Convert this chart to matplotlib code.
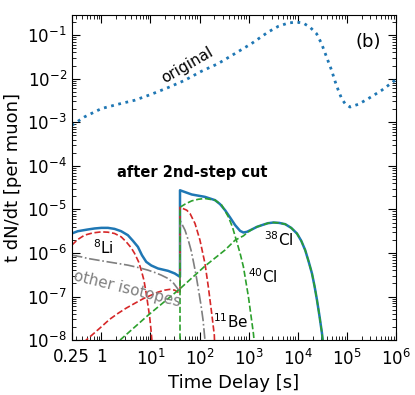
import matplotlib
matplotlib.use('Agg')
import matplotlib.pyplot as plt
import numpy as np
from matplotlib.ticker import LogLocator, NullFormatter, FixedLocator, FixedFormatter

plt.rcParams.update({'font.size': 12})

# "original" curve (dotted)
t_orig = [0.25, 0.454, 1, 2.17, 4.76, 10.4, 22.8, 49.9, 109, 239, 522, 1140, 2500,
          4000, 6400, 9460, 1.29e4, 1.77e4, 2.42e4, 3.06e4, 3.87e4, 4.9e4, 5.74e4,
          6.71e4, 7.84e4, 9.18e4, 1.16e5, 1.72e5, 2.75e5, 5.13e5, 1e6]
v_orig = [8.5e-4, 1.33e-3, 2.06e-3, 2.59e-3, 3.2e-3, 4.39e-3, 6.25e-3, 9.18e-3,
          1.48e-2, 2.22e-2, 3.76e-2, 6.38e-2, 0.118, 0.159, 0.19, 0.2, 0.19, 0.153,
          0.108, 6.38e-2, 3.15e-2, 1.56e-2, 8.85e-3, 5.42e-3, 3.5e-3, 2.69e-3,
          2.24e-3, 2.59e-3, 3.5e-3, 5.42e-3, 9.5e-3]

# total after 2nd-step cut
t_tot = [0.25, 0.331, 0.53, 0.726, 1.0, 1.36, 1.86, 2.53, 3.47, 4.40, 5.56, 6.71,
         8.21, 10.4, 14.2, 22.8, 31.2, 40,
         40, 69.3, 129, 207, 262, 331, 419, 531, 671, 783, 918, 1160, 1470, 1860,
         2470, 3210, 4190, 5560, 7360, 9640, 1.18e4, 1.42e4, 1.66e4, 1.95e4, 2.2e4,
         2.47e4, 2.79e4, 3.12e4, 3.31e4]
v_tot = [2.8e-6, 3.16e-6, 3.46e-6, 3.65e-6, 3.77e-6, 3.77e-6, 3.57e-6, 3.16e-6,
         2.56e-6, 1.9e-6, 1.38e-6, 8.9e-7, 6.25e-7, 5.16e-7, 4.41e-7, 3.89e-7,
         3.39e-7, 2.83e-7,
         2.75e-5, 2.2e-5, 1.94e-5, 1.63e-5, 1.32e-5, 9.6e-6, 6.52e-6, 4.35e-6,
         3.21e-6, 2.95e-6, 3.05e-6, 3.46e-6, 3.97e-6, 4.35e-6, 4.82e-6, 5.0e-6,
         4.9e-6, 4.58e-6, 3.77e-6, 2.8e-6, 1.9e-6, 1.16e-6, 6.49e-7, 3.39e-7,
         1.73e-7, 8.26e-8, 3.42e-8, 1.43e-8, 7.7e-9]

# 8Li
t_li8 = [0.25, 0.331, 0.454, 0.671, 1.0, 1.36, 1.86, 2.54, 3.21, 4.06, 4.76, 5.74,
         6.49, 7.36, 8.21, 8.89, 9.64, 10.2, 10.7, 11.0]
v_li8 = [1.51e-6, 2.04e-6, 2.56e-6, 2.89e-6, 3.05e-6, 3.0e-6, 2.8e-6, 2.34e-6,
         1.8e-6, 1.31e-6, 9.75e-7, 6.25e-7, 4.04e-7, 2.38e-7, 1.18e-7, 6.35e-8,
         3.42e-8, 1.85e-8, 1e-8, 7.7e-9]

# 11Be (before and after cut)
t_be11 = [0.45, 0.49, 0.726, 1.0, 1.47, 2.17, 3.21, 4.76, 7.03, 10.4, 14.2, 19.5,
          24.7, 31.2, 40,
          40, 54.8, 64, 80.9, 102, 129, 151, 177, 200, 206]
v_be11 = [8.5e-9, 1e-8, 1.47e-8, 2.02e-8, 2.99e-8, 4.09e-8, 5.42e-8, 6.95e-8,
          8.85e-8, 1.08e-7, 1.26e-7, 1.4e-7, 1.46e-7, 1.4e-7, 1.18e-7,
          1.12e-5, 9.6e-6, 8.04e-6, 4.74e-6, 1.97e-6, 5.74e-7, 1.67e-7, 4.09e-8,
          1.3e-8, 5e-9]

# 38Cl
t_cl38 = [2.4, 8.9, 40, 129, 331, 531, 783, 918, 1160, 1470, 1860, 2470, 3210,
          4190, 5560, 7360, 9640, 1.18e4, 1.42e4, 1.66e4, 1.95e4, 2.2e4, 2.47e4,
          2.79e4, 3.12e4, 3.31e4]
v_cl38 = [1e-8, 3.7e-8, 1.51e-7, 5.0e-7, 1.17e-6, 1.97e-6, 2.47e-6, 2.88e-6,
          3.46e-6, 3.97e-6, 4.35e-6, 4.82e-6, 5.0e-6, 4.9e-6, 4.58e-6, 3.77e-6,
          2.8e-6, 1.9e-6, 1.16e-6, 6.49e-7, 3.39e-7, 1.73e-7, 8.26e-8, 3.42e-8,
          1.43e-8, 7.7e-9]

# 40Cl
t_cl40 = [40, 40, 50.6, 69.3, 94.6, 129, 207, 284, 387, 467, 574, 671, 783, 991,
          1250, 1320]
v_cl40 = [1e-9, 1.12e-5, 1.32e-5, 1.57e-5, 1.71e-5, 1.78e-5, 1.63e-5, 1.25e-5,
          6.73e-6, 3.97e-6, 1.8e-6, 9.75e-7, 4.81e-7, 9.84e-8, 1.43e-8, 7.7e-9]

# other isotopes
t_oth = [0.25, 0.387, 0.53, 0.849, 1.36, 2.17, 3.48, 5.56, 8.89, 12.2, 16.6, 22.8,
         28.8, 33.6, 40,
         40, 50.6, 59, 67.1, 74.7, 84.9, 95.5, 107, 118, 129, 132]
v_oth = [8.9e-7, 8.15e-7, 7.48e-7, 6.84e-7, 6.25e-7, 5.74e-7, 5.25e-7, 4.65e-7,
         4.04e-7, 3.57e-7, 3.1e-7, 2.6e-7, 2.1e-7, 1.67e-7, 1.28e-7,
         5.65e-6, 3.33e-6, 1.97e-6, 1.16e-6, 6.49e-7, 3.1e-7, 1.4e-7, 6.35e-8,
         2.88e-8, 1e-8, 7.7e-9]

xticks = [0.25, 1, 10, 1e2, 1e3, 1e4, 1e5, 1e6]
xticklabels = ['0.25', '1', '$10^{1}$', '$10^{2}$', '$10^{3}$', '$10^{4}$',
               '$10^{5}$', '$10^{6}$']

fig = plt.figure(figsize=(4.15, 3.95), dpi=100)
ax = fig.add_axes([0.173, 0.139, 0.781, 0.823])

ax.plot(t_orig, v_orig, ':', color='tab:blue', lw=2)
ax.plot(t_tot, v_tot, '-', color='tab:blue', lw=1.8)
ax.plot(t_li8, v_li8, '--', color='tab:red', lw=1.2)
ax.plot(t_be11, v_be11, '--', color='tab:red', lw=1.2)
ax.plot(t_oth, v_oth, '-.', color='tab:gray', lw=1.2)
ax.plot(t_cl40, v_cl40, '--', color='tab:green', lw=1.2)
ax.plot(t_cl38, v_cl38, '--', color='tab:green', lw=1.2)

ax.set_xscale('log')
ax.set_yscale('log')
ax.set_xlim(0.25, 1e6)
ax.set_ylim(1e-8, 0.29)
ax.xaxis.set_major_locator(FixedLocator(xticks))
ax.xaxis.set_major_formatter(FixedFormatter(xticklabels))
ax.xaxis.set_minor_locator(LogLocator(base=10, subs=np.arange(2, 10), numticks=20))
ax.xaxis.set_minor_formatter(NullFormatter())
ax.yaxis.set_major_locator(LogLocator(base=10, numticks=20))
ax.yaxis.set_minor_locator(LogLocator(base=10, subs=np.arange(2, 10), numticks=20))
ax.yaxis.set_minor_formatter(NullFormatter())
ax.tick_params(which='both', direction='in', top=True, right=True)
ax.tick_params(which='major', length=6)
ax.tick_params(which='minor', length=3)
ax.tick_params(axis='x', which='major', pad=6)

ax.set_xlabel('Time Delay [s]', fontsize=13)
ax.set_ylabel('t dN/dt [per muon]', fontsize=13)

ax.text(55, 2.0e-2, 'original', rotation=30, fontsize=11, ha='center', va='center')
ax.text(0.953, 0.917, '(b)', transform=ax.transAxes, fontsize=13, ha='right', va='center')
ax.text(0.373, 0.517, 'after 2nd-step cut', transform=ax.transAxes, fontsize=10.5,
        fontweight='bold', ha='center', va='center')
ax.text(1.1, 1.3e-6, '$^{8}$Li', fontsize=11, ha='center', va='center')
ax.text(3.3, 1.48e-7, 'other isotopes', fontsize=11, color='tab:gray', rotation=-14,
        ha='center', va='center')
ax.text(4190, 2.0e-6, '$^{38}$Cl', fontsize=11, ha='center', va='center')
ax.text(1980, 2.8e-7, '$^{40}$Cl', fontsize=11, ha='center', va='center')
ax.text(440, 2.7e-8, '$^{11}$Be', fontsize=11, ha='center', va='center')

fig.savefig('out.png', dpi=100)
